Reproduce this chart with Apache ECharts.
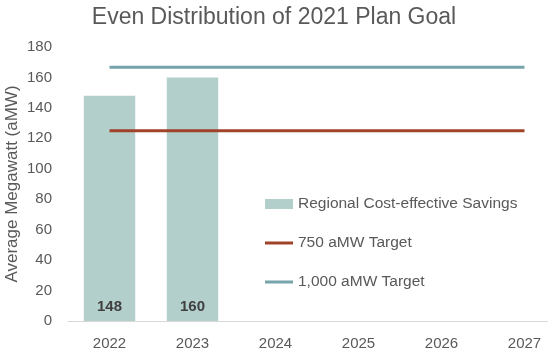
<!DOCTYPE html>
<html><head><meta charset="utf-8">
<script src="https://cdn.jsdelivr.net/npm/echarts@6/dist/echarts.min.js"></script>
<style>html,body{margin:0;padding:0;background:#fff}#c{width:548px;height:357px}</style>
</head><body><div id="c"></div>
<script>
const categories = ['2022','2023','2024','2025','2026','2027'];
const savings = [148, 160, null, null, null, null];
const target750 = [125, 125, 125, 125, 125, 125];
const target1000 = [166.7, 166.7, 166.7, 166.7, 166.7, 166.7];
const yTicks = {min: 0, max: 180, interval: 20};

const grey = '#595959';
const font = 'Liberation Sans';
const chart = echarts.init(document.getElementById('c'));
chart.setOption({
  animation: false,
  title: {text: 'Even Distribution of 2021 Plan Goal', left: 'center', top: 1,
    textStyle: {color: grey, fontFamily: font, fontSize: 23, fontWeight: 'normal'}},
  grid: {left: 68, top: 47, bottom: 36, width: 498, outerBoundsMode: 'none', containLabel: false},
  legend: [
    {data: ['Regional Cost-effective Savings'], left: 260, top: 191,
      itemWidth: 28, itemHeight: 10, icon: 'rect', itemGap: 6,
      textStyle: {color: grey, fontFamily: font, fontSize: 15.5}},
    {data: ['750 aMW Target'], left: 260, top: 230, itemWidth: 28, itemHeight: 3, icon: 'rect',
      textStyle: {color: grey, fontFamily: font, fontSize: 15.5}},
    {data: ['1,000 aMW Target'], left: 260, top: 269, itemWidth: 28, itemHeight: 3, icon: 'rect',
      textStyle: {color: grey, fontFamily: font, fontSize: 15.5}}
  ],
  xAxis: {type: 'category', data: categories,
    axisLine: {lineStyle: {color: '#D9D9D9', width: 1}}, axisTick: {show: false},
    axisLabel: {color: grey, fontFamily: font, fontSize: 15, margin: 15}},
  yAxis: {type: 'value', min: yTicks.min, max: yTicks.max, interval: yTicks.interval,
    name: 'Average Megawatt (aMW)', nameLocation: 'middle', nameGap: 47, nameMoveOverlap: false,
    nameTextStyle: {color: grey, fontFamily: font, fontSize: 17},
    splitLine: {show: false}, axisLine: {show: false}, axisTick: {show: false},
    axisLabel: {color: grey, fontFamily: font, fontSize: 15, margin: 16}},
  series: [
    {name: 'Regional Cost-effective Savings', type: 'bar', data: savings, barWidth: '62%',
      itemStyle: {color: '#B3CFCB'},
      label: {show: true, position: 'insideBottom', distance: 7, color: '#404040',
        fontFamily: font, fontSize: 15, fontWeight: 'bold'}},
    {name: '750 aMW Target', type: 'line', data: target750, showSymbol: false, symbol: 'none',
      lineStyle: {color: '#A0432A', width: 3}, itemStyle: {color: '#A0432A'}},
    {name: '1,000 aMW Target', type: 'line', data: target1000, showSymbol: false, symbol: 'none',
      lineStyle: {color: '#77A4AB', width: 3}, itemStyle: {color: '#77A4AB'}}
  ]
});
</script></body></html>
